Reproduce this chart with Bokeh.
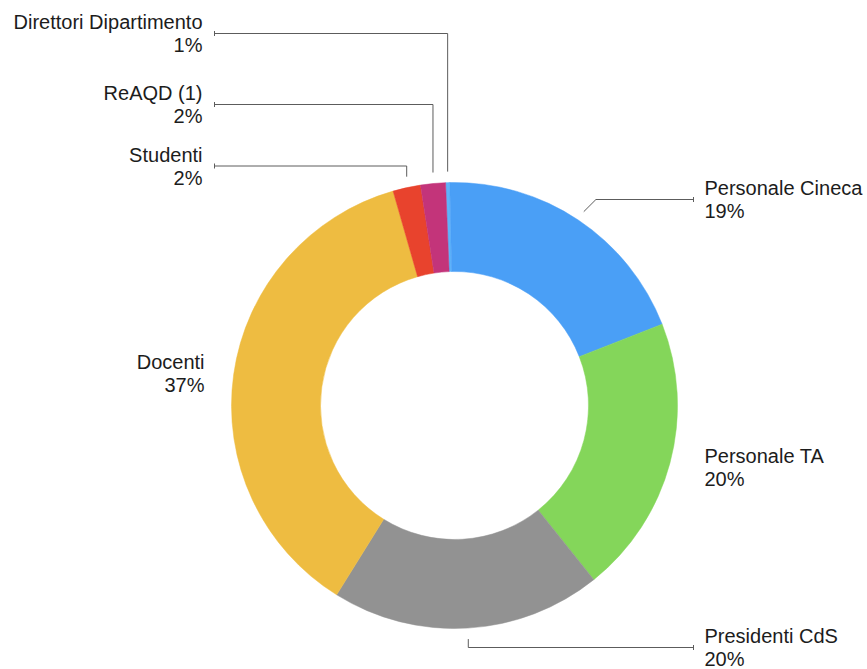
import math
from bokeh.plotting import figure
from bokeh.models import ColumnDataSource, Range1d
from bokeh.core.properties import value
from bokeh.embed import file_html
from bokeh.resources import INLINE

# ---- data (clockwise from the top) ----
categories = ["Direttori Dipartimento", "Personale Cineca", "Personale TA",
              "Presidenti CdS", "Docenti", "Studenti", "ReAQD (1)"]
shares = [0.3, 19.4, 20.2, 19.6, 36.7, 2.0, 1.8]
pct_labels = ["1%", "19%", "20%", "20%", "37%", "2%", "2%"]
colors = ["#5EB3FA", "#4A9FF6", "#84D65A", "#929292", "#EEBC41", "#E8432D", "#C3347A"]

# ---- layout ----
W, H = 867, 669
CX, CY_S = 454, 405          # centre (screen coords)
R_OUT, R_IN = 223, 134
START_DEG = -2.3             # clockwise from 12 o'clock
FONT = "Liberation Sans"
FS = "20px"
HALF = 11.5                  # half line spacing of a two-line label
# label anchor: (align, x, block-middle screen y, leader style)
label_layout = {
    "Direttori Dipartimento": ("right", 202, 33, "up"),
    "ReAQD (1)": ("right", 202, 104, "up"),
    "Studenti": ("right", 202, 165.5, "up"),
    "Personale Cineca": ("left", 704, 199, "diag"),
    "Personale TA": ("left", 704, 467, None),
    "Presidenti CdS": ("left", 704, 647, "down"),
    "Docenti": ("right", 204, 372.5, None),
}


def sy(y):
    return H - y


total = sum(shares)
starts, ends, mids = [], [], []
acc = START_DEG
for v in shares:
    d = 360.0 * v / total
    starts.append(acc)
    ends.append(acc + d)
    mids.append(acc + d / 2)
    acc += d

src = ColumnDataSource(dict(
    cat=categories,
    start=[math.radians(90 - a) for a in starts],
    end=[math.radians(90 - a) for a in ends],
    color=colors,
))

p = figure(width=W, height=H, output_backend="svg", toolbar_location=None,
           x_range=Range1d(0, W), y_range=Range1d(0, H), min_border=0)
p.axis.visible = False
p.grid.visible = False
p.outline_line_color = None
p.background_fill_color = "white"
p.border_fill_color = "white"

p.annular_wedge(x=CX, y=sy(CY_S), inner_radius=R_IN, outer_radius=R_OUT,
                start_angle="start", end_angle="end", direction="clock",
                fill_color="color", line_color="color", line_width=0.5,
                source=src)

# ---- leaders and labels ----
lx, ly = [], []
tx0, ty0, tx1, ty1 = [], [], [], []
names_l = dict(x=[], y=[], t=[])
names_r = dict(x=[], y=[], t=[])
for cat, mid, pct in zip(categories, mids, pct_labels):
    align, x_lab, y_mid, style = label_layout[cat]
    a = math.radians(mid)
    target = names_l if align == "left" else names_r
    target["x"] += [x_lab, x_lab]
    target["y"] += [sy(y_mid - HALF), sy(y_mid + HALF)]
    target["t"] += [cat, pct]
    if style is None:
        continue
    if style == "up":
        x0 = CX + R_OUT * math.sin(a)
        y0 = CY_S - math.sqrt(R_OUT ** 2 - (x0 - CX) ** 2) - 11
        pts = [(x0, y0), (x0, y_mid), (x_lab + 12, y_mid)]
    elif style == "diag":
        x0 = CX + (R_OUT + 10) * math.sin(a)
        y0 = CY_S - (R_OUT + 10) * math.cos(a)
        x1 = x0 + (y0 - y_mid)
        pts = [(x0, y0), (x1, y_mid), (x_lab - 11, y_mid)]
    else:  # down
        x0 = CX + (R_OUT + 11) * math.sin(a)
        y0 = CY_S - (R_OUT + 11) * math.cos(a)
        pts = [(x0, y0), (x0, y_mid), (x_lab - 11, y_mid)]
    end = pts[-1]
    lx.append([q[0] for q in pts])
    ly.append([sy(q[1]) for q in pts])
    tx0.append(end[0]); tx1.append(end[0])
    ty0.append(sy(end[1] - 2.5)); ty1.append(sy(end[1] + 2.5))

p.multi_line(xs=lx, ys=ly, line_color="#5c5c5c", line_width=1)
p.segment(x0=tx0, y0=ty0, x1=tx1, y1=ty1, line_color="#5c5c5c", line_width=1)

for d, align in ((names_l, "left"), (names_r, "right")):
    p.text(x=d["x"], y=d["y"], text=d["t"], text_align=align,
           text_baseline="middle", text_font=value(FONT),
           text_font_size=FS, text_color="#1c1c1c")

open("out.html", "w").write(file_html(p, INLINE))
